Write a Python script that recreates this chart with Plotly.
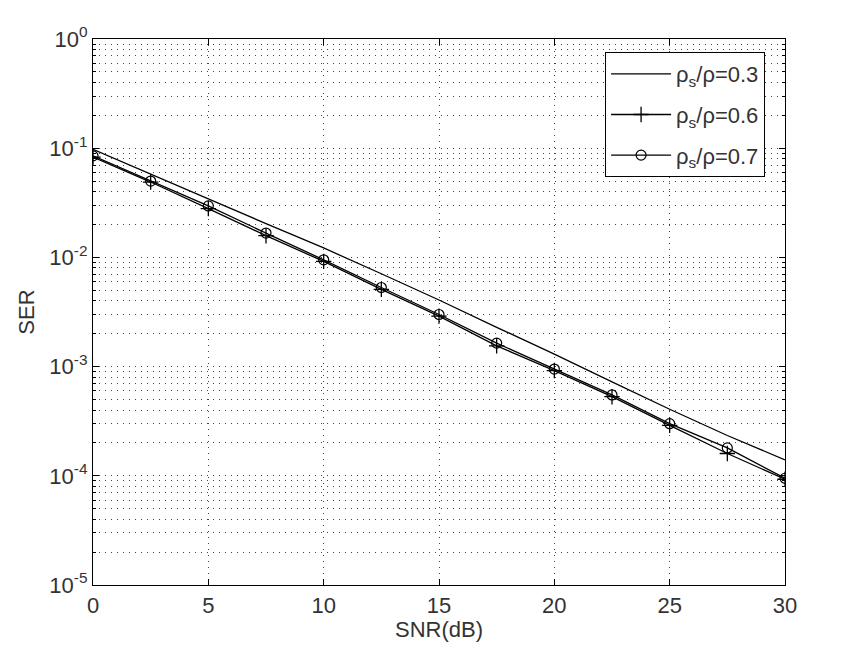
import plotly.graph_objects as go

snr = [0, 2.5, 5, 7.5, 10, 12.5, 15, 17.5, 20, 22.5, 25, 27.5, 30]
ser_03 = [0.0977, 0.0575, 0.0343, 0.0204, 0.0122, 0.00708, 0.00407, 0.00229,
          0.0013, 0.000724, 0.000407, 0.000234, 0.00014]
ser_06 = [0.083, 0.049, 0.0280, 0.0158, 0.0092, 0.0051, 0.0029, 0.00155,
          0.00092, 0.00053, 0.00029, 0.00016, 0.000093]
ser_07 = [0.085, 0.050, 0.0296, 0.0167, 0.0095, 0.0053, 0.0030, 0.00164,
          0.00095, 0.00055, 0.0003, 0.00018, 0.000095]
names = ["ρ<sub>s</sub>/ρ=0.3", "ρ<sub>s</sub>/ρ=0.6", "ρ<sub>s</sub>/ρ=0.7"]
x_ticks = [0, 5, 10, 15, 20, 25, 30]
y_ticks = [1, 0.1, 0.01, 0.001, 0.0001, 0.00001]
y_ticktext = ["10<sup>0</sup>", "10<sup>-1</sup>", "10<sup>-2</sup>",
              "10<sup>-3</sup>", "10<sup>-4</sup>", "10<sup>-5</sup>"]
minor_vals = [m * d for d in [1e-5, 1e-4, 1e-3, 1e-2, 1e-1] for m in range(2, 10)]

FONT = "Liberation Sans, Arial, sans-serif"
TXT = "#333333"
FS = 22

fig = go.Figure()
fig.add_trace(go.Scatter(x=snr, y=ser_03, name=names[0], mode="lines",
                         line=dict(color="black", width=1.3), legendgroup="a"))
fig.add_trace(go.Scatter(x=snr, y=ser_06, name=names[1], mode="lines+markers",
                         line=dict(color="black", width=1.3),
                         marker=dict(symbol="cross-thin-open", size=11,
                                     line=dict(color="black", width=1.3)),
                         legendgroup="b"))
fig.add_trace(go.Scatter(x=snr, y=ser_07, name=names[2], mode="lines+markers",
                         line=dict(color="black", width=1.3),
                         marker=dict(symbol="circle-open", size=10,
                                     line=dict(color="black", width=1.2)),
                         legendgroup="c"))

grid = dict(showgrid=True, gridcolor="#444", gridwidth=1, griddash="1px,5px")
tf = dict(family=FONT, size=FS, color=TXT)

fig.update_layout(
    width=855, height=655,
    margin=dict(l=93, r=70, t=39, b=70),
    paper_bgcolor="white", plot_bgcolor="white",
    font=tf,
    showlegend=True,
    legend=dict(x=0.74, y=0.976, xanchor="left", yanchor="top",
                bgcolor="white", bordercolor="black", borderwidth=1,
                font=tf, traceorder="grouped", tracegroupgap=9,
                itemwidth=60),
    xaxis=dict(range=[0, 30], tickvals=x_ticks, ticks="inside", ticklen=6,
               tickcolor="black", showline=True, linecolor="black", linewidth=1.2,
               mirror="ticks", zeroline=False, tickfont=tf,
               title=dict(text="SNR(dB)", standoff=4, font=tf),
               **grid),
    yaxis=dict(type="log", range=[-5, 0], tickvals=y_ticks, ticktext=y_ticktext,
               ticks="inside", ticklen=6, tickcolor="black", showline=True,
               linecolor="black", linewidth=1.2, mirror="ticks", zeroline=False,
               tickfont=tf,
               title=dict(text="SER", standoff=8, font=tf),
               minor=dict(tickvals=minor_vals, ticks="inside", ticklen=3,
                          tickcolor="black", showgrid=True, gridcolor="#444",
                          gridwidth=1, griddash="1px,5px"),
               **grid),
)

fig.write_html("out.html")
